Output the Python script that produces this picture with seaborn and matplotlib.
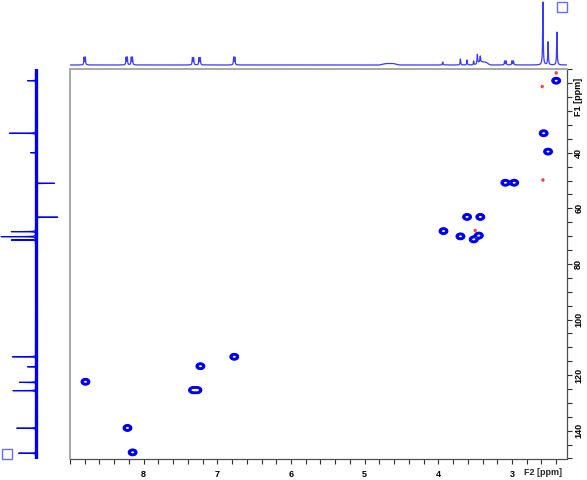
import numpy as np
import pandas as pd
import matplotlib
matplotlib.use("Agg")
import matplotlib.pyplot as plt
import seaborn as sns
from matplotlib.patches import Rectangle
from matplotlib.ticker import MultipleLocator, FixedLocator
import matplotlib.transforms as mtransforms

# ---------------- data ----------------
# HSQC cross peaks (F2 = 1H ppm, F1 = 13C ppm)
hsqc_f2 = [2.40, 2.57, 2.51, 3.09, 2.97, 3.61, 3.43, 3.93, 3.70, 3.52, 3.45,
           8.79, 6.77, 7.23, 7.33, 7.27, 8.22, 8.15]
hsqc_f1 = [14.1, 33.0, 39.6, 50.8, 50.8, 63.1, 63.1, 68.2, 70.1, 71.2, 69.8,
           122.4, 113.4, 116.8, 125.4, 125.4, 139.0, 147.8]
# small negative (red) contours
neg_f2 = [2.59, 2.40, 2.58, 3.50]
neg_f1 = [16.2, 11.3, 49.8, 68.0]

# 1H projection (top): peak positions and heights
h1_ppm = [8.808, 8.792, 8.238, 8.222, 8.168, 8.152, 7.338, 7.322, 7.248, 7.232,
          6.778, 6.762, 3.94, 3.70, 3.61, 3.52, 3.47, 3.43, 3.10, 3.08, 3.00, 2.98,
          2.58, 2.51, 2.39]
h1_height = [7.5, 7.5, 7.5, 7.5, 7.5, 7.5, 7, 7, 7, 7,
             7.5, 7.5, 3, 6, 5, 4, 9, 6, 4, 4, 4, 4,
             63, 23, 33]
h1_broad_ppm = [4.66, 3.40]
h1_broad_height = [1.5, 3.0]
h1_broad_width = [0.10, 0.08]

# 13C projection (left): positive = drawn to the left
c13_ppm = [14.1, 33.0, 40.0, 51.0, 63.2, 68.4, 70.2, 71.4, 113.4, 117.0,
           122.6, 125.6, 139.1, 148.1]
c13_height = [8, 26, 5, -19, -22, 24, 34, 24, 23, 8, 16, 23, 19, 17]

f2_lim = (9.0, 2.26)
f1_lim = (150.0, 10.0)
f2_major = [3, 4, 5, 6, 7, 8]
f1_major = [20, 40, 60, 80, 100, 120, 140]
f1_labels = ["F1 [ppm]", "40", "60", "80", "100", "120", "140"]

# ---------------- style ----------------
sns.set_style("white")
plt.rcParams["font.family"] = ["Liberation Sans", "DejaVu Sans"]

BLUE = "#0000f0"
LBLUE = "#3a3aff"

W, H = 587, 480
fig = plt.figure(figsize=(W / 100, H / 100), dpi=100)

def fx(px):
    return px / W

def fy(py):
    return 1 - py / H

L, R, T, B = 70, 566.5, 69.3, 458.5
ax = fig.add_axes([fx(L), fy(B), fx(R - L), (B - T) / H])
axt = fig.add_axes([fx(L), fy(67), fx(R - L), 67 / H], sharex=ax)
axl = fig.add_axes([0, fy(B), fx(60), (B - T) / H], sharey=ax)

# ---------------- 2D contours ----------------
x = np.linspace(2.2, 9.05, 1100)
y = np.linspace(8, 152, 900)
X, Y = np.meshgrid(x, y)
Z = np.zeros_like(X)
for a, b in zip(hsqc_f2, hsqc_f1):
    Z += np.exp(-((X - a) ** 2) / (2 * 0.030 ** 2) - ((Y - b) ** 2) / (2 * 0.60 ** 2))
ax.contour(X, Y, Z, levels=[0.16, 0.24, 0.33, 0.45, 0.6], colors=BLUE, linewidths=1.0)
Zn = np.zeros_like(X)
for a, b in zip(neg_f2, neg_f1):
    Zn += np.exp(-((X - a) ** 2) / (2 * 0.012 ** 2) - ((Y - b) ** 2) / (2 * 0.35 ** 2))
ax.contour(X, Y, Zn, levels=[0.4, 0.7], colors="#ff3030", linewidths=0.6)

ax.set_xlim(*f2_lim)
ax.set_ylim(*f1_lim)
ax.yaxis.tick_right()
ax.xaxis.set_major_locator(FixedLocator(f2_major))
ax.xaxis.set_minor_locator(MultipleLocator(0.2))
ax.yaxis.set_major_locator(FixedLocator(f1_major))
ax.yaxis.set_minor_locator(MultipleLocator(5))
ax.set_xticklabels([str(v) for v in f2_major])
ax.set_yticklabels(f1_labels, rotation=90, va="center")
ax.tick_params(axis="both", which="both", direction="out", colors="#303030",
               labelcolor="black", labelsize=6.5, width=0.8)
ax.tick_params(axis="x", which="both", bottom=True, top=False, length=3.5, pad=5)
ax.tick_params(axis="y", which="both", right=True, left=False, length=3.5, pad=2)
for lab in ax.get_xticklabels() + ax.get_yticklabels():
    lab.set_fontweight("bold")
for s in ["left", "top"]:
    ax.spines[s].set_color("#a8a8a8")
    ax.spines[s].set_linewidth(1.4)
for s in ["right", "bottom"]:
    ax.spines[s].set_color("#505050")
    ax.spines[s].set_linewidth(0.9)
ax.set_xlabel("")
ax.set_ylabel("")
trans = mtransforms.blended_transform_factory(ax.transData, ax.transAxes)
ax.text(2.58, -0.035, "F2 [ppm]", transform=trans, ha="center", va="center",
        fontsize=6.5, fontweight="bold")

# ---------------- top 1H projection ----------------
p1 = np.linspace(2.2, 9.05, 9000)
s1 = np.zeros_like(p1)
g = 0.0045
for c, h in zip(h1_ppm, h1_height):
    s1 += h * g ** 2 / ((p1 - c) ** 2 + g ** 2)
for c, h, w in zip(h1_broad_ppm, h1_broad_height, h1_broad_width):
    s1 += h * np.exp(-np.abs((p1 - c) / w) ** 4)
df1 = pd.DataFrame({"ppm": p1, "intensity": s1})
sns.lineplot(data=df1, x="ppm", y="intensity", ax=axt, color=LBLUE, linewidth=0.9,
             estimator=None, sort=False)
axt.set_ylim(-2, 65)
axt.axis("off")

# ---------------- left 13C projection ----------------
p2 = np.linspace(8, 152, 8000)
s2 = np.zeros_like(p2)
g2 = 0.05
for c, h in zip(c13_ppm, c13_height):
    s2 += h * g2 ** 2 / ((p2 - c) ** 2 + g2 ** 2)
df2 = pd.DataFrame({"ppm": p2, "intensity": s2})
axl.axvline(0, color=BLUE, linewidth=2.4)
sns.lineplot(data=df2, x="intensity", y="ppm", ax=axl, color=BLUE, linewidth=0.8,
             estimator=None, sort=False, orient="y")
axl.set_xlim(35, -24)
axl.axis("off")

# small square markers
fig.patches.append(Rectangle((fx(557), fy(12)), fx(9.5), 10 / H, transform=fig.transFigure,
                             fill=False, edgecolor="#6a6aff", linewidth=1.0))
fig.patches.append(Rectangle((fx(2), fy(459)), fx(10), 10 / H, transform=fig.transFigure,
                             fill=False, edgecolor="#6a6aff", linewidth=1.0))

fig.savefig("out.png", dpi=100)
